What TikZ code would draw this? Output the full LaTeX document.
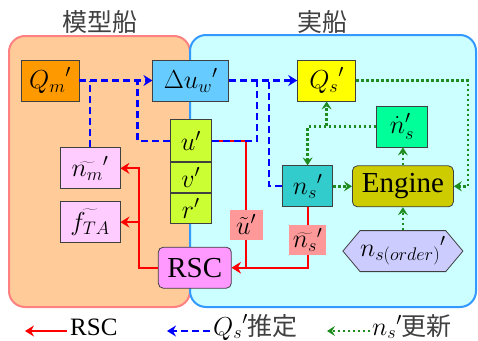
\RequirePackage{fix-cm}
\documentclass[tikz,border=0pt]{standalone}
\usepackage{fontspec}
\setmainfont{Liberation Serif}
\newfontfamily\jpfont{Noto Sans CJK JP}
\usepackage{xcolor}
\definecolor{modelfill}{HTML}{FFCC99}
\definecolor{modeldraw}{HTML}{FF8080}
\definecolor{realfill}{HTML}{CCFFFF}
\definecolor{realdraw}{HTML}{3399FF}
\definecolor{boxgray}{HTML}{404040}
\definecolor{textgray}{HTML}{404040}
\definecolor{rscred}{HTML}{FF0000}
\definecolor{qsblue}{HTML}{0000FF}
\definecolor{nsgreen}{HTML}{1E8C1E}
\definecolor{labelred}{HTML}{FF9999}
\definecolor{qmorange}{HTML}{FF9900}
\definecolor{duwblue}{HTML}{66CCFF}
\definecolor{qsyellow}{HTML}{FFFF00}
\definecolor{nsdotgreen}{HTML}{00FF99}
\definecolor{uvrgreen}{HTML}{CCFF33}
\definecolor{tildepink}{HTML}{FFCCFF}
\definecolor{rscviolet}{HTML}{FF99FF}
\definecolor{nsteal}{HTML}{33CCCC}
\definecolor{engineolive}{HTML}{CCCC00}
\definecolor{orderlavender}{HTML}{CCCCFF}
\usepackage{tikz}
\usetikzlibrary{arrows.meta, positioning, calc, shapes.symbols}
\tikzstyle{region} = [
  rectangle, rounded corners=16pt, line width=2pt, inner sep=0pt
]
\tikzstyle{varbox} = [
  rectangle, draw=boxgray, line width=0.8pt, inner sep=0pt,
  minimum height=41pt, text centered
]
\tikzstyle{tildelabel} = [
  rectangle, fill=labelred, text=black, inner sep=1pt, minimum width=33pt,
  minimum height=30pt
]
\tikzstyle{titletext} = [
  font=\jpfont\fontsize{25}{27}\selectfont, text=textgray
]
\tikzstyle{legendtext} = [
  anchor=base west, inner sep=1pt
]
\tikzstyle{rscarrow} = [
  -{Stealth[length=9pt, width=11pt, inset=3pt]}, line width=2.2pt, color=rscred
]
\tikzstyle{qsline} = [
  dash pattern=on 7pt off 4pt, line width=2.2pt, color=qsblue
]
\tikzstyle{qsarrow} = [
  qsline, -{Stealth[length=9pt, width=11pt, inset=3pt]}
]
\tikzstyle{nsarrow} = [
  -{Stealth[length=8pt, width=10pt, inset=3pt]},
  dash pattern=on 2.5pt off 2.5pt, line width=2.5pt, color=nsgreen
]

\begin{document}
\begin{tikzpicture}[x=1pt, y=-1pt,
                    every node/.style={font=\fontsize{26}{30}\selectfont}]
  \useasboundingbox (0,0) rectangle (478,340);

  % ── Regions ───────────────────────────────────────────
  \node[region, fill=modelfill, draw=modeldraw,
        minimum width=181pt, minimum height=271pt] (model) at (99.5,171.5) {};
  \node[region, fill=realfill, draw=realdraw,
        minimum width=286pt, minimum height=272pt] (real) at (333,171) {};
  \node[titletext] (modeltitle) at (100,22) {模型船};
  \node[titletext] (realtitle) at (322,22) {実船};

  % ── Upper row ─────────────────────────────────────────
  \node[varbox, fill=qmorange, minimum width=58pt] (qm) at (50,80.5) {${Q_m}'$};
  \node[varbox, fill=duwblue, minimum width=76pt, right=73pt of qm]
    (duw) {${\Delta u_w}'$};
  \node[varbox, fill=qsyellow, minimum width=58pt, right=68pt of duw]
    (qs) {${Q_s}'$};
  \node[varbox, fill=nsdotgreen, minimum width=51pt,
        right=20pt of qs, yshift=-46pt] (nsdot) {${\dot{n}_s}'$};

  % ── u' v' r' ──────────────────────────────────────────
  \node[varbox, fill=uvrgreen, minimum width=41pt, minimum height=42pt,
        below=18pt of duw] (u) {$u'$};
  \node[varbox, fill=uvrgreen, minimum width=41pt, minimum height=30pt,
        below=0pt of u] (v) {$v'$};
  \node[varbox, fill=uvrgreen, minimum width=41pt, minimum height=30pt,
        below=0pt of v] (r) {$r'$};

  % ── Model ship outputs ────────────────────────────────
  \node[varbox, fill=tildepink, minimum width=60pt,
        below=46pt of qm, xshift=40pt] (nmt) {$\widetilde{n_m}'$};
  \node[varbox, fill=tildepink, minimum width=60pt, below=12pt of nmt]
    (fta) {$\widetilde{f_{TA}}$};
  \node[varbox, fill=rscviolet, rounded corners=5pt, minimum width=73pt,
        below=23pt of r, xshift=4pt, font=\fontsize{29}{30}\selectfont]
    (rsc) {RSC};

  % ── Real ship ─────────────────────────────────────────
  \node[varbox, fill=nsteal, minimum width=50pt,
        below=64pt of qs, xshift=-19pt] (ns) {${n_s}'$};
  \node[varbox, fill=engineolive, rounded corners=5pt, minimum width=101pt,
        right=19pt of ns, font=\fontsize{29}{30}\selectfont] (engine) {Engine};
  \node[signal, signal to=west and east, signal pointer angle=100,
        draw=boxgray, line width=0.8pt, fill=orderlavender, inner sep=0pt,
        minimum width=120pt, minimum height=41pt, below=23pt of engine]
    (order) {${n_{s(order)}}'$};

  % ── RSC (red) ─────────────────────────────────────────
  \coordinate (ujoin) at ($(u.east)+(34.5pt,0)$);
  \draw[rscarrow] (u.east) -- (ujoin)
    |- node[tildelabel, pos=0.33] (ut) {$\tilde{u}'$} (rsc.east);
  \draw[rscarrow] (ns.south)
    |- node[tildelabel, minimum width=37pt, pos=0.27] (nst) {$\widetilde{n_s}'$} (rsc.east);
  \draw[rscarrow] (rsc.west) -- ++(-19pt,0) |- (nmt.east);
  \draw[rscarrow] (rsc.west) -- ++(-19pt,0) |- (fta.east);

  % ── Qs' estimate (blue) ───────────────────────────────
  \draw[qsarrow] (qm.east) -- (duw.west);
  \draw[qsline] (nmt.north) -- (nmt.north |- qm.east);
  \draw[qsline] (u.west) -| ($(duw.west)+(-15pt,0)$);
  \draw[qsarrow] (duw.east) -- (qs.west);
  \draw[qsline] (u.east) -| ($(duw.east)+(28pt,0)$);
  \draw[qsline] (ns.west) -| ($(duw.east)+(40pt,0)$);

  % ── ns' update (green) ────────────────────────────────
  \draw[nsarrow] (qs.east) -- ++(112pt,0) |- (engine.east);
  \draw[nsarrow] (engine.north) -- (engine.north |- nsdot.south);
  \draw[nsarrow] (nsdot.west) -| (ns.north);
  \draw[nsarrow] (nsdot.west) -| (qs.south);
  \draw[nsarrow] (ns.east) -- (engine.west);
  \draw[nsarrow] (order.north) -- (order.north |- engine.south);

  % ── Legend ────────────────────────────────────────────
  \node[legendtext, font=\fontsize{25}{27}\selectfont] (legrsc) at (69,335) {RSC};
  \node[legendtext] (legqs) at (212,335)
    {${Q_s}'$\textcolor{textgray}{\jpfont\fontsize{25}{27}\selectfont 推定}};
  \node[legendtext] (legns) at (371,335)
    {${n_s}'$\textcolor{textgray}{\jpfont\fontsize{25}{27}\selectfont 更新}};
  \draw[rscarrow] ($(legrsc.base west)+(-2pt,4pt)$) -- ++(-42pt,0);
  \draw[qsarrow] ($(legqs.base west)+(-2pt,4pt)$) -- ++(-43pt,0);
  \draw[nsarrow] ($(legns.base west)+(-1pt,4pt)$) -- ++(-43pt,0);

\end{tikzpicture}
\end{document}
